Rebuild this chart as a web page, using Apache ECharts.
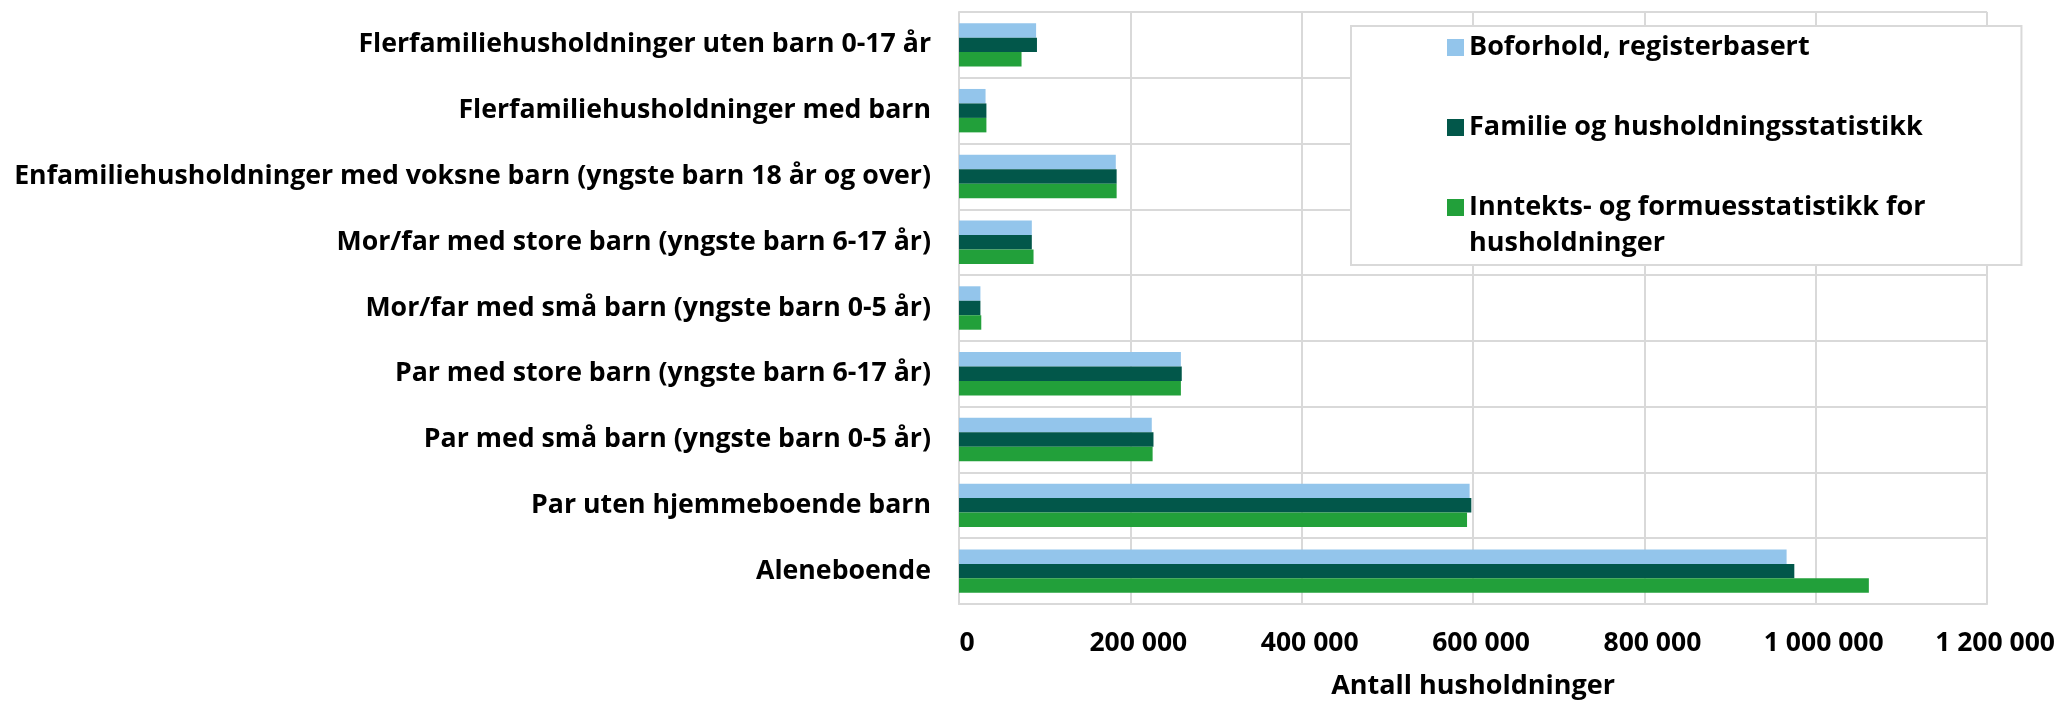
<!DOCTYPE html>
<html>
<head>
<meta charset="utf-8">
<title>Husholdninger etter type</title>
<script src="https://cdn.jsdelivr.net/npm/echarts@6/dist/echarts.min.js"></script>
<style>
  html, body { margin: 0; padding: 0; background: #fff; }
  #chart { width: 2058px; height: 705px; }
</style>
</head>
<body>
<div id="chart"></div>
<script>
// kategorier, nederst -> øverst
const categories = [
  'Aleneboende',
  'Par uten hjemmeboende barn',
  'Par med små barn (yngste barn 0-5 år)',
  'Par med store barn (yngste barn 6-17 år)',
  'Mor/far med små barn (yngste barn 0-5 år)',
  'Mor/far med store barn (yngste barn 6-17 år)',
  'Enfamiliehusholdninger med voksne barn (yngste barn 18 år og over)',
  'Flerfamiliehusholdninger med barn',
  'Flerfamiliehusholdninger uten barn 0-17 år'
]

const seriesNames = [
  'Boforhold, registerbasert',
  'Familie og husholdningsstatistikk',
  'Inntekts- og formuesstatistikk for husholdninger'
]

const boforhold = [966000, 596000, 225000, 259000, 25000, 85000, 183000, 31000, 90000]
const familie = [975000, 598000, 227000, 260000, 25000, 85000, 184000, 32000, 91000]
const inntekt = [1062000, 593000, 226000, 259000, 26000, 87000, 184000, 32000, 73000]

const xMin = 0
const xMax = 1200000
const xStep = 200000

const colors = ['#93c5eb', '#02574a', '#22a03a']
const font = '"Open Sans", "Noto Sans", sans-serif'
const gridColor = '#d9d9d9'

// 200000 -> "200 000"
const fmt = v => String(v).replace(/\B(?=(\d{3})+(?!\d))/g, ' ')

const chart = echarts.init(document.getElementById('chart'))

const option = {
  animation: false,
  color: colors,
  grid: {
    left: 959,
    right: 68,
    top: 12,
    bottom: 98,
    containLabel: false
  },
  legend: {
    orient: 'vertical',
    left: 1351,
    top: 26,
    padding: [8, 96, 8, 96],
    itemWidth: 17,
    itemHeight: 17,
    itemGap: 53,
    selectedMode: false,
    borderColor: gridColor,
    borderWidth: 2,
    backgroundColor: '#fff',
    icon: 'rect',
    data: seriesNames,
    // siste post brytes over to linjer, ikonet står ved første linje
    formatter: name => {
      if (name === seriesNames[2]) {
        return '{a|Inntekts- og formuesstatistikk for}\n{b|husholdninger}'
      }
      return '{a|' + name + '}'
    },
    textStyle: {
      fontFamily: font,
      fontWeight: 'bold',
      fontSize: 27,
      color: '#000',
      rich: {
        a: { fontFamily: font, fontWeight: 'bold', fontSize: 27, color: '#000' },
        b: { fontFamily: font, fontWeight: 'bold', fontSize: 27, color: '#000', lineHeight: 0, padding: [45, 0, 0, 0] }
      }
    }
  },
  xAxis: {
    type: 'value',
    min: xMin,
    max: xMax,
    interval: xStep,
    name: 'Antall husholdninger',
    nameLocation: 'middle',
    nameGap: 69,
    nameTextStyle: {
      fontFamily: font,
      fontWeight: 'bold',
      fontSize: 27,
      color: '#000'
    },
    axisLine: { show: true, lineStyle: { color: gridColor, width: 2 } },
    axisTick: { show: false },
    splitLine: { show: true, lineStyle: { color: gridColor, width: 2 } },
    axisLabel: {
      margin: 26,
      padding: [0, 0, 0, 16],
      fontFamily: font,
      fontWeight: 'bold',
      fontSize: 26.5,
      color: '#000',
      formatter: fmt
    }
  },
  yAxis: {
    type: 'category',
    data: categories,
    axisLine: { show: true, lineStyle: { color: gridColor, width: 2 } },
    axisTick: { show: false },
    splitLine: { show: true, lineStyle: { color: gridColor, width: 2 } },
    axisLabel: {
      margin: 28,
      fontFamily: font,
      fontWeight: 'bold',
      fontSize: 26.7,
      color: '#000'
    }
  },
  series: [
    { name: seriesNames[0], type: 'bar', data: boforhold, barGap: '0%', barCategoryGap: '34%' },
    { name: seriesNames[1], type: 'bar', data: familie, barGap: '0%', barCategoryGap: '34%' },
    { name: seriesNames[2], type: 'bar', data: inntekt, barGap: '0%', barCategoryGap: '34%' }
  ]
}

chart.setOption(option)
</script>
</body>
</html>
